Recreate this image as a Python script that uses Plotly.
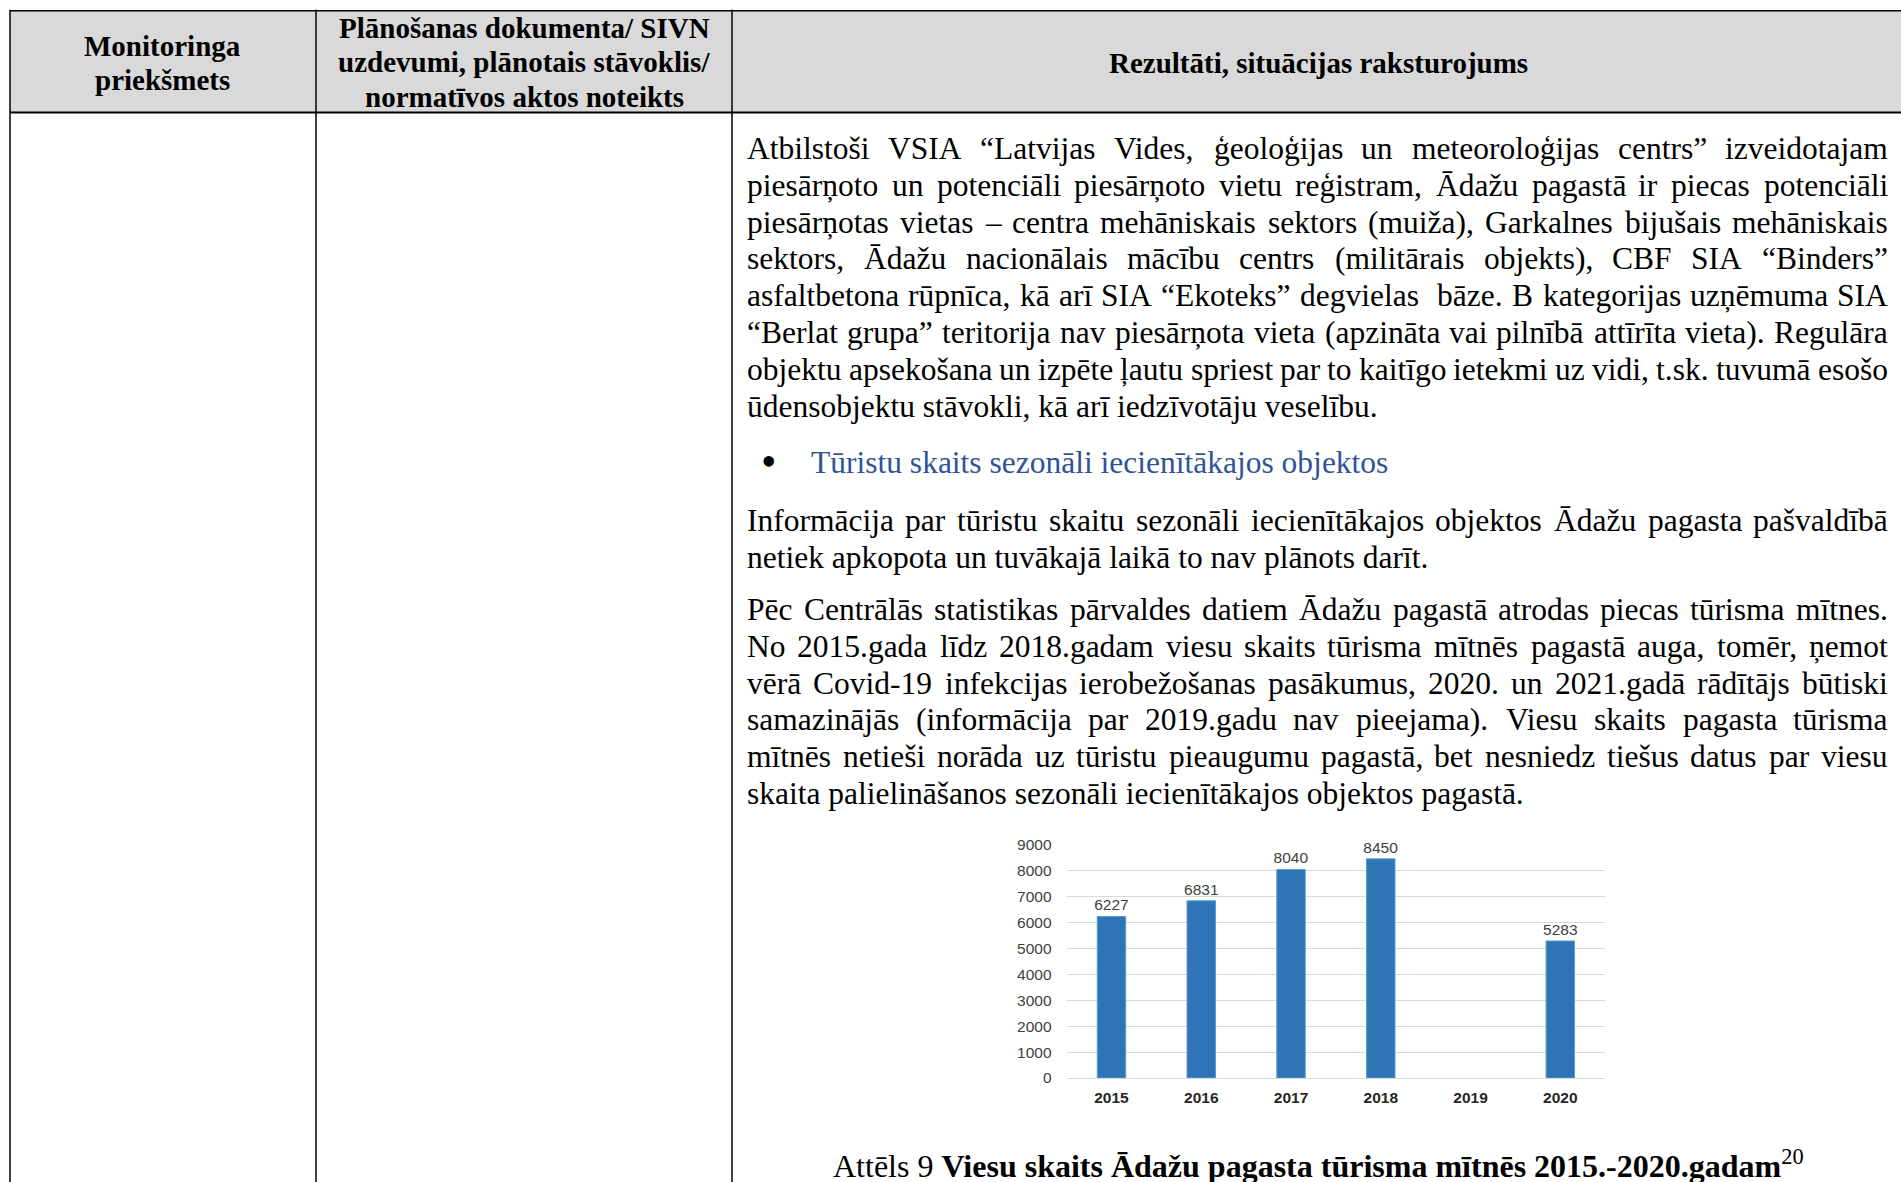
import unicodedata
import plotly.graph_objects as go

# ---------------- data ----------------
years = ["2015", "2016", "2017", "2018", "2019", "2020"]
visitors = [6227, 6831, 8040, 8450, None, 5283]
y_ticks = [0, 1000, 2000, 3000, 4000, 5000, 6000, 7000, 8000, 9000]

header_col1 = ["Monitoringa", "priekšmets"]
header_col2 = ["Plānošanas dokumenta/ SIVN", "uzdevumi, plānotais stāvoklis/", "normatīvos aktos noteikts"]
header_col3 = ["Rezultāti, situācijas raksturojums"]

para1 = [
    "Atbilstoši VSIA “Latvijas Vides, ģeoloģijas un meteoroloģijas centrs” izveidotajam",
    "piesārņoto un potenciāli piesārņoto vietu reģistram, Ādažu pagastā ir piecas potenciāli",
    "piesārņotas vietas – centra mehāniskais sektors (muiža), Garkalnes bijušais mehāniskais",
    "sektors, Ādažu nacionālais mācību centrs (militārais objekts), CBF SIA “Binders”",
    "asfaltbetona rūpnīca, kā arī SIA “Ekoteks” degvielas  bāze. B kategorijas uzņēmuma SIA",
    "“Berlat grupa” teritorija nav piesārņota vieta (apzināta vai pilnībā attīrīta vieta). Regulāra",
    "objektu apsekošana un izpēte ļautu spriest par to kaitīgo ietekmi uz vidi, t.sk. tuvumā esošo",
    "ūdensobjektu stāvokli, kā arī iedzīvotāju veselību.",
]
bullet_text = "Tūristu skaits sezonāli iecienītākajos objektos"
para2 = [
    "Informācija par tūristu skaitu sezonāli iecienītākajos objektos Ādažu pagasta pašvaldībā",
    "netiek apkopota un tuvākajā laikā to nav plānots darīt.",
]
para3 = [
    "Pēc Centrālās statistikas pārvaldes datiem Ādažu pagastā atrodas piecas tūrisma mītnes.",
    "No 2015.gada līdz 2018.gadam viesu skaits tūrisma mītnēs pagastā auga, tomēr, ņemot",
    "vērā Covid-19 infekcijas ierobežošanas pasākumus, 2020. un 2021.gadā rādītājs būtiski",
    "samazinājās (informācija par 2019.gadu nav pieejama). Viesu skaits pagasta tūrisma",
    "mītnēs netieši norāda uz tūristu pieaugumu pagastā, bet nesniedz tiešus datus par viesu",
    "skaita palielināšanos sezonāli iecienītākajos objektos pagastā.",
]
caption_plain = "Attēls 9 "
caption_bold = "Viesu skaits Ādažu pagasta tūrisma mītnēs 2015.-2020.gadam"
caption_sup = "20"

# ---------------- page geometry ----------------
W, H = 1901, 1182
def px(x):
    return x / W
def py(y):
    # compensate the small vertical offset/scale seen in the captured page
    yf = (y - 8.3) / 0.9878
    return 1 - yf / H

SERIF = "Liberation Serif, Times New Roman, serif"
NARROW = "Liberation Sans Narrow, Arial Narrow, Liberation Sans, Arial, sans-serif"
BODY_SIZE = 31.5
HEAD_SIZE = 29
CHART_SIZE = 15.5

# Times-Roman-compatible advance widths (per 1000 em)
REG = {' ': 250, ',': 250, '.': 250, '-': 333, '(': 333, ')': 333, '/': 278, ':': 278,
       '“': 444, '”': 444, '–': 500,
       'A': 722, 'B': 667, 'C': 667, 'D': 722, 'E': 611, 'F': 556, 'G': 722, 'H': 722, 'I': 333,
       'J': 389, 'K': 722, 'L': 611, 'M': 889, 'N': 722, 'O': 722, 'P': 556, 'Q': 722, 'R': 667,
       'S': 556, 'T': 611, 'U': 722, 'V': 722, 'W': 944, 'X': 722, 'Y': 722, 'Z': 611,
       'a': 444, 'b': 500, 'c': 444, 'd': 500, 'e': 444, 'f': 333, 'g': 500, 'h': 500, 'i': 278,
       'j': 278, 'k': 500, 'l': 278, 'm': 778, 'n': 500, 'o': 500, 'p': 500, 'q': 500, 'r': 333,
       's': 389, 't': 278, 'u': 500, 'v': 500, 'w': 722, 'x': 500, 'y': 500, 'z': 444}
for d in "0123456789":
    REG[d] = 500

def tw(s, size):
    w = 0
    for ch in s:
        if ch in REG:
            w += REG[ch]
        else:
            base = unicodedata.normalize("NFD", ch)[0]
            w += REG.get(base, 500)
    return w * size / 1000.0

annotations = []
def ann(text, x, y, size, xanchor="left", color="black", family=SERIF, yanchor="middle"):
    annotations.append(dict(text=text, x=px(x), y=py(y), xref="paper", yref="paper",
                            showarrow=False, xanchor=xanchor, yanchor=yanchor,
                            borderpad=0, borderwidth=0,
                            font=dict(family=family, size=size, color=color)))

LEFT, RIGHT = 747, 1888
PITCH = 36.9

def justified(line, y):
    toks = line.split(" ")
    widths = [tw(t, BODY_SIZE) for t in toks]
    gaps = len(toks) - 1
    sp = tw(" ", BODY_SIZE)
    extra = (RIGHT - LEFT - sum(widths) - gaps * sp) / gaps
    gap = sp + extra
    xs = []
    x = LEFT
    for w in widths:
        xs.append(x)
        x += w + gap
    mid = (LEFT + RIGHT) / 2
    for t, x0, w in zip(toks, xs, widths):
        if not t:
            continue
        if x0 + w / 2 < mid:
            ann(t, x0, y, BODY_SIZE, "left")
        else:
            ann(t, x0 + w, y, BODY_SIZE, "right")

def paragraph(lines, y0):
    for i, line in enumerate(lines):
        y = y0 + i * PITCH
        if i < len(lines) - 1:
            justified(line, y)
        else:
            ann(line, LEFT, y, BODY_SIZE, "left")

paragraph(para1, 148)
ann("•", 768, 462, 44, "center")
ann(bullet_text, 811, 463, BODY_SIZE, "left", color="#2F5496")
paragraph(para2, 521)
paragraph(para3, 610)

ann(caption_plain + "<b>" + caption_bold + "</b><sup>" + caption_sup + "</sup>",
    833, 1166, 32, "left")

# header texts
for i, t in enumerate(header_col1):
    ann("<b>" + t + "</b>", 162, 45 + i * 34, HEAD_SIZE, "center")
for i, t in enumerate(header_col2):
    ann("<b>" + t + "</b>", 524, 27 + i * 34.5, HEAD_SIZE, "center")
ann("<b>" + header_col3[0] + "</b>", 1318, 62, HEAD_SIZE, "center")

# table shapes
shapes = [
    dict(type="rect", xref="paper", yref="paper", x0=px(10), x1=px(W + 5), y0=py(10), y1=py(112),
         fillcolor="#D9D9D9", line=dict(width=0), layer="below"),
    dict(type="line", xref="paper", yref="paper", x0=px(10), x1=px(W + 5), y0=py(10), y1=py(10),
         line=dict(color="black", width=1.6)),
    dict(type="line", xref="paper", yref="paper", x0=px(10), x1=px(W + 5), y0=py(112), y1=py(112),
         line=dict(color="black", width=2)),
]
for xv in (10, 316, 732):
    shapes.append(dict(type="line", xref="paper", yref="paper", x0=px(xv), x1=px(xv),
                       y0=py(9), y1=py(H + 30), line=dict(color="black", width=1.5)))

# ---------------- chart ----------------
fig = go.Figure()
fig.add_trace(go.Bar(
    x=years, y=visitors,
    texttemplate="%{y}",
    textposition="outside", cliponaxis=False, constraintext="none",
    textfont=dict(family=NARROW, size=CHART_SIZE, color="#404040"),
    marker=dict(color="#2E75B6", line=dict(color="#5B9BD5", width=1)),
    width=0.317,
    hoverinfo="skip",
))

fig.update_layout(
    width=W, height=H, autosize=False,
    margin=dict(l=0, r=0, t=0, b=0),
    paper_bgcolor="white", plot_bgcolor="white",
    showlegend=False,
    annotations=annotations, shapes=shapes,
    xaxis=dict(domain=[px(1066.6), px(1605.2)], type="category", range=[-0.5, 5.5],
               showgrid=False, showline=False, zeroline=False, ticks="",
               tickfont=dict(family=NARROW, size=CHART_SIZE, color="#262626", weight="bold"),
               ticklabelstandoff=8),
    yaxis=dict(domain=[py(1079.7), py(845.7)], range=[0, 9000], tickvals=y_ticks,
               showgrid=True, gridcolor="#D9D9D9", gridwidth=1,
               zeroline=True, zerolinecolor="#D9D9D9", zerolinewidth=1,
               showline=False, ticks="",
               tickfont=dict(family=NARROW, size=CHART_SIZE, color="#404040"),
               ticklabelstandoff=14),
)

post = ("document.documentElement.style.margin='0px';"
        "document.body.style.margin='0px';document.body.style.padding='0px';"
        "document.body.style.overflow='hidden';"
        "var d=document.getElementById('{plot_id}');"
        "d.style.position='fixed';d.style.top='0px';d.style.left='0px';")
fig.write_html("out.html", config={"displayModeBar": False}, post_script=post)
